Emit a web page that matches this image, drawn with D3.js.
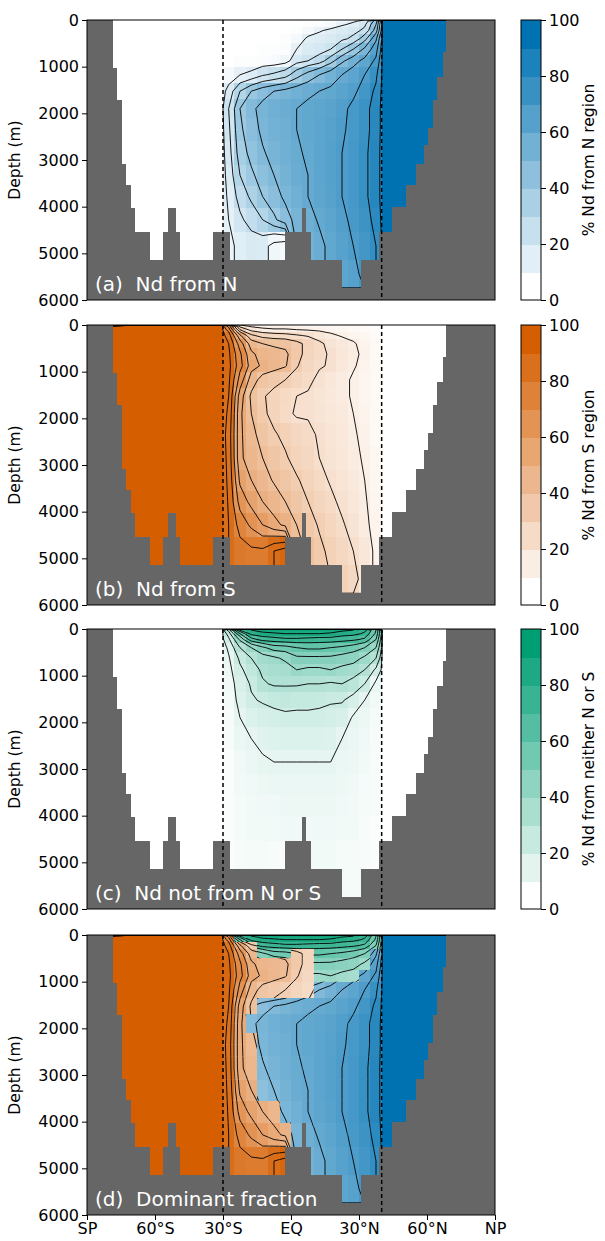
<!DOCTYPE html>
<html lang="en">
<head>
<meta charset="utf-8">
<title>Nd source fractions</title>
<script src="https://d3js.org/d3.v7.min.js"></script>
<style>
  body { margin: 0; background: #fff; }
  svg text { font-family: "DejaVu Sans", sans-serif; }
</style>
</head>
<body>
<script>
// ---- data ----
// interior grid (between the two tagged regions), lat edges in degrees
var latEdges = [-30, -25, -20, -15, -10, -5, 0, 5, 10, 15, 20, 25, 30, 35, 40];
// model level edges (m)
var depthEdges = [0, 50, 150, 300, 500, 750, 1000, 1350, 1700, 2100, 2600, 3100, 3550, 4020, 4546, 5140, 5750];
var regionSouth = -30, regionNorth = 40;
// value in the S region / N region
var outerN = [0, 100];
var outerS = [100, 0];
var outerNeither = [0, 0];

// bathymetry: segment edges (lat) and sea floor depth of each segment
var bathyLat = [-90, -78.7, -76.9, -74.7, -72.8, -70.7, -68.8, -62.6, -56.3, -54.4, -50.9, -49.0,
  -34.3, -26.9, -2.6, 5.0, 6.5, 8.8, 22.5, 30.7, 38.8, 44.7, 50.7, 55.0, 58.7, 60.6, 62.8, 64.5, 66.9, 68.2, 90];
var bathyDepth = [0, 1030, 1714, 3090, 3540, 4022, 4546, 5140, 4546, 4022, 4546, 5140,
  4546, 5140, 4546, 4022, 4546, 5140, 5750, 5140, 4546, 4015, 3540, 3090, 2680, 2315, 1705, 1226, 675, 0];

// % Nd from N region, one row per level, columns -27.5 ... 37.5
var fromN = [
  [0, 0, 0, 0, 0, 0, 0, 0, 1, 2, 4, 8, 14, 35],
  [0, 0, 0, 0, 0, 0, 0, 1, 2, 4, 9, 12, 18, 40],
  [0, 0, 0, 0, 0, 0, 1, 4, 9, 12, 14, 17, 22, 45],
  [0, 0, 0, 0, 0, 1, 4, 12, 13, 15, 18, 22, 36, 58],
  [0, 0, 0, 1, 1, 2, 10, 14, 16, 20, 30, 40, 52, 66],
  [0, 1, 1, 2, 3, 6, 16, 20, 25, 36, 48, 56, 63, 72],
  [4, 10, 13, 19, 22, 26, 36, 44, 50, 55, 60, 64, 70, 78],
  [14, 30, 40, 46, 50, 53, 56, 58, 60, 62, 65, 68, 74, 82],
  [20, 40, 48, 53, 56, 58, 60, 62, 63, 65, 68, 72, 77, 84],
  [18, 38, 46, 52, 55, 57, 60, 62, 64, 66, 69, 72, 77, 84],
  [16, 35, 43, 49, 53, 56, 59, 61, 64, 67, 70, 73, 78, 85],
  [14, 30, 38, 45, 50, 54, 58, 60, 64, 67, 70, 73, 78, 85],
  [12, 24, 32, 40, 46, 52, 56, 60, 63, 66, 70, 73, 78, 85],
  [10, 18, 24, 30, 38, 46, 53, 57, 61, 64, 68, 72, 76, 83],
  [8, 12, 15, 14, 6, 3, 50, 55, 58, 62, 66, 70, 74, 80],
  [8, 12, 15, 14, 6, 3, 50, 55, 58, 62, 64, 66, 74, 80]
];

// % Nd from S region
var fromS = [
  [65, 15, 8, 6, 5, 5, 4, 4, 3, 3, 2, 2, 2, 2],
  [75, 30, 16, 12, 11, 11, 10, 9, 8, 6, 5, 4, 3, 2],
  [85, 52, 32, 26, 24, 23, 21, 19, 15, 12, 9, 7, 5, 3],
  [90, 65, 45, 40, 38, 37, 33, 27, 22, 17, 14, 11, 7, 4],
  [92, 72, 52, 46, 44, 42, 34, 26, 22, 19, 15, 12, 8, 4],
  [93, 74, 55, 48, 45, 41, 31, 24, 21, 19, 14, 11, 7, 4],
  [92, 66, 45, 36, 33, 30, 26, 22, 18, 15, 12, 9, 6, 4],
  [90, 55, 38, 31, 27, 23, 20, 19, 16, 14, 12, 9, 6, 4],
  [88, 52, 40, 32, 27, 22, 19, 19, 17, 15, 13, 10, 7, 4],
  [86, 52, 43, 36, 31, 28, 24, 22, 19, 16, 14, 11, 8, 4],
  [87, 52, 45, 40, 35, 31, 27, 24, 20, 17, 15, 12, 9, 5],
  [88, 58, 50, 44, 39, 35, 31, 27, 23, 19, 16, 13, 10, 5],
  [89, 66, 57, 50, 45, 40, 35, 30, 26, 22, 18, 15, 11, 6],
  [90, 76, 68, 60, 53, 48, 40, 34, 29, 25, 21, 17, 12, 7],
  [90, 84, 82, 82, 90, 95, 45, 38, 32, 28, 24, 20, 15, 8],
  [90, 84, 82, 82, 90, 95, 45, 38, 32, 30, 28, 24, 15, 8]
];

// % Nd from neither region
var fromNeither = [
  [35, 82, 90, 94, 95, 95, 96, 96, 96, 95, 93, 90, 84, 60],
  [25, 60, 84, 88, 89, 90, 90, 90, 90, 89, 86, 84, 78, 58],
  [18, 42, 66, 74, 76, 78, 78, 77, 76, 76, 74, 72, 68, 50],
  [12, 30, 40, 48, 55, 56, 60, 62, 62, 60, 58, 55, 50, 40],
  [9, 22, 30, 36, 38, 42, 48, 48, 48, 48, 46, 44, 38, 30],
  [7, 18, 25, 32, 34, 35, 40, 38, 38, 40, 37, 35, 30, 18],
  [5, 15, 21, 29, 31, 31, 31, 30, 30, 29, 30, 27, 20, 8],
  [4, 13, 19, 21, 23, 24, 23, 23, 22, 21, 21, 16, 10, 5],
  [3, 10, 14, 16, 17, 18, 18, 18, 18, 17, 15, 9, 7, 4],
  [3, 8, 10, 12, 13, 14, 14, 14, 14, 13, 10, 8, 6, 3],
  [2, 6, 8, 9, 10, 10, 10, 10, 10, 10, 8, 7, 5, 3],
  [2, 5, 6, 7, 8, 8, 8, 8, 8, 8, 7, 6, 4, 3],
  [2, 4, 5, 6, 6, 7, 7, 7, 7, 7, 6, 5, 4, 3],
  [2, 4, 5, 5, 5, 6, 6, 6, 6, 6, 5, 5, 3, 2],
  [2, 3, 4, 4, 3, 2, 5, 5, 5, 5, 4, 4, 3, 2],
  [2, 3, 4, 4, 3, 2, 5, 5, 5, 5, 4, 4, 3, 2]
];

// dominant source per cell (N, S or G = neither)
var dominant = [
  "SGGGGGGGGGGGGG",
  "SGGGGGGGGGGGGG",
  "SSSGGGGGGGGGGG",
  "SSSGGGSSGGGGGN",
  "SSSSSSSSGGGGGN",
  "SSSSSSSSGGGGNN",
  "SSSSSSSSNNNNNN",
  "SSSNNNNNNNNNNN",
  "SSNNNNNNNNNNNN",
  "SSSNNNNNNNNNNN",
  "SSSNNNNNNNNNNN",
  "SSSNNNNNNNNNNN",
  "SSSSSNNNNNNNNN",
  "SSSSSSNNNNNNNN",
  "SSSSSSNNNNNNNN",
  "SSSSSSNNNNNNNN"
];

var contourLevels = [10, 20, 30, 40, 50, 60, 70, 80, 90];
var depthTicks = [0, 1000, 2000, 3000, 4000, 5000, 6000];
var latTicks = [-90, -60, -30, 0, 30, 60, 90];
var latTickLabels = ["SP", "60°S", "30°S", "EQ", "30°N", "60°N", "NP"];
var cbarTicks = [0, 20, 40, 60, 80, 100];
var panelTitles = ["(a)  Nd from N", "(b)  Nd from S", "(c)  Nd not from N or S", "(d)  Dominant fraction"];
var cbarLabels = ["% Nd from N region", "% Nd from S region", "% Nd from neither N or S"];

// ---- layout ----
var W = 605, H = 1241;
var plotLeft = 87, plotRight = 495;
var panelTops = [20, 325, 629, 935];
var panelH = 280;
var cbarLeft = 521, cbarW = 20;
var landColor = "#666666";

var fields = [fromN, fromS, fromNeither];
var outers = [outerN, outerS, outerNeither];
var colors = ["#0072B2", "#D55E00", "#009E73"];
var domKey = { N: 0, S: 1, G: 2 };

var svg = d3.select("body").append("svg")
  .attr("width", W)
  .attr("height", H);
var defs = svg.append("defs");

var x = d3.scaleLinear().domain([-90, 90]).range([plotLeft, plotRight]);

// grid index -> lat / depth (piecewise)
var colEdges = [-90, regionSouth - 1].concat(latEdges, [regionNorth + 1, 90]);
var nx = colEdges.length - 1, ny = depthEdges.length - 1;
var colScale = d3.scaleLinear().domain(d3.range(colEdges.length)).range(colEdges);
var rowScale = d3.scaleLinear().domain(d3.range(depthEdges.length)).range(depthEdges);

function gridValues(rows, outer) {
  var flat = [];
  rows.forEach(function (r) {
    flat.push(outer[0], outer[0]);
    r.forEach(function (v) { flat.push(v); });
    flat.push(outer[1], outer[1]);
  });
  return flat;
}

var contourSets = fields.map(function (f, k) {
  return d3.contours().size([nx, ny]).thresholds(contourLevels)(gridValues(f, outers[k]));
});

function contourPath(geom, y) {
  return geom.coordinates.map(function (poly) {
    return poly.map(function (ring) {
      return "M" + ring.map(function (p) {
        return x(colScale(p[0])).toFixed(2) + "," + y(rowScale(p[1])).toFixed(2);
      }).join("L") + "Z";
    }).join("");
  }).join("");
}

function ramp(k) {
  return d3.interpolateRgb("#ffffff", colors[k]);
}

function drawContours(g, k, y) {
  g.selectAll("path")
    .data(contourSets[k])
    .enter()
    .append("path")
    .attr("d", function (d) { return contourPath(d, y); })
    .attr("fill", "none")
    .attr("stroke", "#000")
    .attr("stroke-width", 0.9)
    .attr("stroke-linejoin", "round");
}

function drawPanel(p) {
  var top = panelTops[p];
  var y = d3.scaleLinear().domain([0, 6000]).range([top, top + panelH]);
  var g = svg.append("g");

  defs.append("clipPath").attr("id", "plot" + p)
    .append("rect")
    .attr("x", plotLeft).attr("y", top)
    .attr("width", plotRight - plotLeft).attr("height", panelH);

  var body = g.append("g").attr("clip-path", "url(#plot" + p + ")");
  var cells = body.append("g").attr("shape-rendering", "crispEdges");

  // tagged regions
  [[-90, regionSouth, 0], [regionNorth, 90, 1]].forEach(function (reg) {
    var fill;
    if (p < 3) fill = ramp(p)(outers[p][reg[2]] / 100);
    else fill = reg[2] === 0 ? colors[1] : colors[0];
    cells.append("rect")
      .attr("x", x(reg[0])).attr("y", top)
      .attr("width", x(reg[1]) - x(reg[0])).attr("height", panelH)
      .attr("fill", fill);
  });

  // interior cells
  for (var j = 0; j < ny; j++) {
    for (var i = 0; i < latEdges.length - 1; i++) {
      var k = p < 3 ? p : domKey[dominant[j][i]];
      var v = fields[k][j][i];
      cells.append("rect")
        .attr("x", x(latEdges[i])).attr("y", y(depthEdges[j]))
        .attr("width", x(latEdges[i + 1]) - x(latEdges[i]) + 0.5)
        .attr("height", y(depthEdges[j + 1]) - y(depthEdges[j]) + 0.5)
        .attr("fill", ramp(k)(v / 100));
    }
  }

  // contour lines
  if (p < 3) {
    drawContours(body.append("g"), p, y);
  } else {
    [0, 1, 2].forEach(function (k) {
      var cp = defs.append("clipPath").attr("id", "dom" + k);
      if (k < 2) {
        var reg = k === 1 ? [-90, regionSouth] : [regionNorth, 90];
        cp.append("rect").attr("x", x(reg[0])).attr("y", top)
          .attr("width", x(reg[1]) - x(reg[0])).attr("height", panelH);
      }
      for (var j = 0; j < ny; j++) {
        for (var i = 0; i < latEdges.length - 1; i++) {
          if (domKey[dominant[j][i]] !== k) continue;
          cp.append("rect")
            .attr("x", x(latEdges[i])).attr("y", y(depthEdges[j]))
            .attr("width", x(latEdges[i + 1]) - x(latEdges[i]))
            .attr("height", y(depthEdges[j + 1]) - y(depthEdges[j]));
        }
      }
      drawContours(body.append("g").attr("clip-path", "url(#dom" + k + ")"), k, y);
    });
  }

  // bathymetry
  var land = body.append("g").attr("shape-rendering", "crispEdges");
  bathyDepth.forEach(function (d, s) {
    land.append("rect")
      .attr("x", x(bathyLat[s])).attr("y", y(d))
      .attr("width", x(bathyLat[s + 1]) - x(bathyLat[s]) + 0.4)
      .attr("height", y(6000) - y(d))
      .attr("fill", landColor);
  });

  // region boundaries
  [regionSouth, regionNorth].forEach(function (lat) {
    body.append("line")
      .attr("x1", x(lat)).attr("x2", x(lat))
      .attr("y1", top).attr("y2", top + panelH)
      .attr("stroke", "#000").attr("stroke-width", 1.5)
      .attr("stroke-dasharray", "4,3");
  });

  body.append("text")
    .attr("x", 95).attr("y", top + 271)
    .attr("font-size", 20)
    .attr("fill", "#ffffff")
    .style("white-space", "pre")
    .text(panelTitles[p]);

  g.append("rect")
    .attr("x", plotLeft).attr("y", top)
    .attr("width", plotRight - plotLeft).attr("height", panelH)
    .attr("fill", "none").attr("stroke", "#000").attr("stroke-width", 1);

  // y axis
  var ya = g.append("g")
    .attr("transform", "translate(" + plotLeft + ",0)")
    .call(d3.axisLeft(y).tickValues(depthTicks).tickFormat(d3.format("d")).tickSize(5).tickSizeOuter(0));
  ya.select(".domain").remove();
  ya.selectAll("text").attr("font-size", 16).attr("font-family", "DejaVu Sans").attr("fill", "#000");

  g.append("text")
    .attr("transform", "translate(20," + (top + panelH / 2) + ") rotate(-90)")
    .attr("text-anchor", "middle")
    .attr("font-size", 15.5)
    .text("Depth (m)");

  if (p === 3) {
    var xa = g.append("g")
      .attr("transform", "translate(0," + (top + panelH) + ")")
      .call(d3.axisBottom(x).tickValues(latTicks)
        .tickFormat(function (d, i) { return latTickLabels[i]; })
        .tickSize(5).tickSizeOuter(0));
    xa.select(".domain").remove();
    xa.selectAll("text").attr("font-size", 16).attr("font-family", "DejaVu Sans").attr("fill", "#000");
  } else {
    drawColorbar(p, top);
  }
}

function drawColorbar(p, top) {
  var cy = d3.scaleLinear().domain([0, 100]).range([top + panelH, top]);
  var g = svg.append("g");
  var bands = d3.range(0, 100, 10);
  g.append("g").attr("shape-rendering", "crispEdges")
    .selectAll("rect")
    .data(bands)
    .enter()
    .append("rect")
    .attr("x", cbarLeft)
    .attr("y", function (d) { return cy(d + 10); })
    .attr("width", cbarW)
    .attr("height", function (d) { return cy(d) - cy(d + 10) + 0.5; })
    .attr("fill", function (d) { return ramp(p)((d / 10) / 9); });
  g.append("rect")
    .attr("x", cbarLeft).attr("y", top)
    .attr("width", cbarW).attr("height", panelH)
    .attr("fill", "none").attr("stroke", "#000").attr("stroke-width", 1);
  var ca = g.append("g")
    .attr("transform", "translate(" + (cbarLeft + cbarW) + ",0)")
    .call(d3.axisRight(cy).tickValues(cbarTicks).tickSize(5).tickSizeOuter(0));
  ca.select(".domain").remove();
  ca.selectAll("text").attr("font-size", 16).attr("font-family", "DejaVu Sans").attr("fill", "#000");
  g.append("text")
    .attr("transform", "translate(594," + (top + panelH / 2) + ") rotate(-90)")
    .attr("text-anchor", "middle")
    .attr("font-size", 15.5)
    .text(cbarLabels[p]);
}

d3.range(4).forEach(drawPanel);
</script>
</body>
</html>
